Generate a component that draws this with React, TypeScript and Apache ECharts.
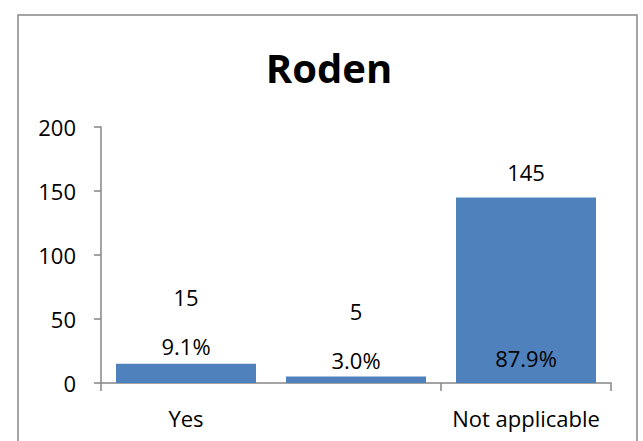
import React, { useEffect, useRef } from "react";
import * as echarts from "echarts";

const categories = ["Yes", "No", "Not applicable"];
const counts = [15, 5, 145];
const percentLabels = ["9.1%", "3.0%", "87.9%"];
const yTicks = { min: 0, max: 200, interval: 50 };
const chartTitle = "Roden";

// label placement (pixels), kept apart from the data
const countLabelDistance = [56, 55, 14];
const pctLabelPlacement: { position: string; distance: number }[] = [
  { position: "top", distance: 6 },
  { position: "top", distance: 5 },
  { position: "bottom", distance: 149 },
];

const FONT = "'Open Sans', 'Noto Sans', sans-serif";

export default function App() {
  const ref = useRef<HTMLDivElement>(null);
  useEffect(() => {
    if (!ref.current) return;
    const chart = echarts.init(ref.current, undefined, { renderer: "svg" });
    chart.setOption({
      animation: false,
      backgroundColor: "#ffffff",
      textStyle: { fontFamily: FONT },
      graphic: [
        {
          type: "rect",
          shape: { x: 18, y: 15, width: 619, height: 440 },
          style: { fill: "none", stroke: "#868686", lineWidth: 1.5 },
          silent: true,
        },
        {
          type: "text",
          x: 329,
          y: 67,
          style: {
            text: chartTitle,
            fontFamily: FONT,
            fontSize: 40,
            fontWeight: "bold",
            fill: "#000000",
            align: "center",
            verticalAlign: "middle",
          },
        },
      ],
      grid: { left: 101, top: 127, width: 510, height: 256, containLabel: false },
      xAxis: {
        type: "category",
        data: categories,
        axisLine: { show: true, lineStyle: { color: "#868686", width: 1.5 } },
        axisTick: { show: true, alignWithLabel: false, length: 8, lineStyle: { color: "#868686", width: 1.5 } },
        axisLabel: { color: "#000000", fontSize: 22, fontFamily: FONT, margin: 24 },
        splitLine: { show: false },
      },
      yAxis: {
        type: "value",
        min: yTicks.min,
        max: yTicks.max,
        interval: yTicks.interval,
        axisLine: { show: true, lineStyle: { color: "#868686", width: 1.5 } },
        axisTick: { show: true, length: 7, lineStyle: { color: "#868686", width: 1.5 } },
        axisLabel: { color: "#000000", fontSize: 22, fontFamily: FONT, margin: 25 },
        splitLine: { show: false },
      },
      series: [
        {
          type: "bar",
          barWidth: 140,
          itemStyle: { color: "#4F81BD" },
          data: counts.map((v, i) => ({
            value: v,
            label: { distance: countLabelDistance[i] },
          })),
          label: {
            show: true,
            position: "top",
            formatter: "{c}",
            color: "#000000",
            fontSize: 22,
            fontFamily: FONT,
          },
        },
        {
          type: "scatter",
          symbolSize: 1,
          silent: true,
          itemStyle: { color: "rgba(0,0,0,0)", opacity: 1 },
          data: counts.map((v, i) => ({
            value: v,
            label: {
              position: pctLabelPlacement[i].position,
              distance: pctLabelPlacement[i].distance,
            },
          })),
          label: {
            show: true,
            formatter: (p: any) => percentLabels[p.dataIndex],
            color: "#000000",
            fontSize: 22,
            fontFamily: FONT,
          },
          z: 5,
        },
      ],
    });
    return () => chart.dispose();
  }, []);
  return (
    <div
      ref={ref}
      style={{ position: "absolute", left: 0, top: 0, width: 643, height: 441 }}
    />
  );
}
